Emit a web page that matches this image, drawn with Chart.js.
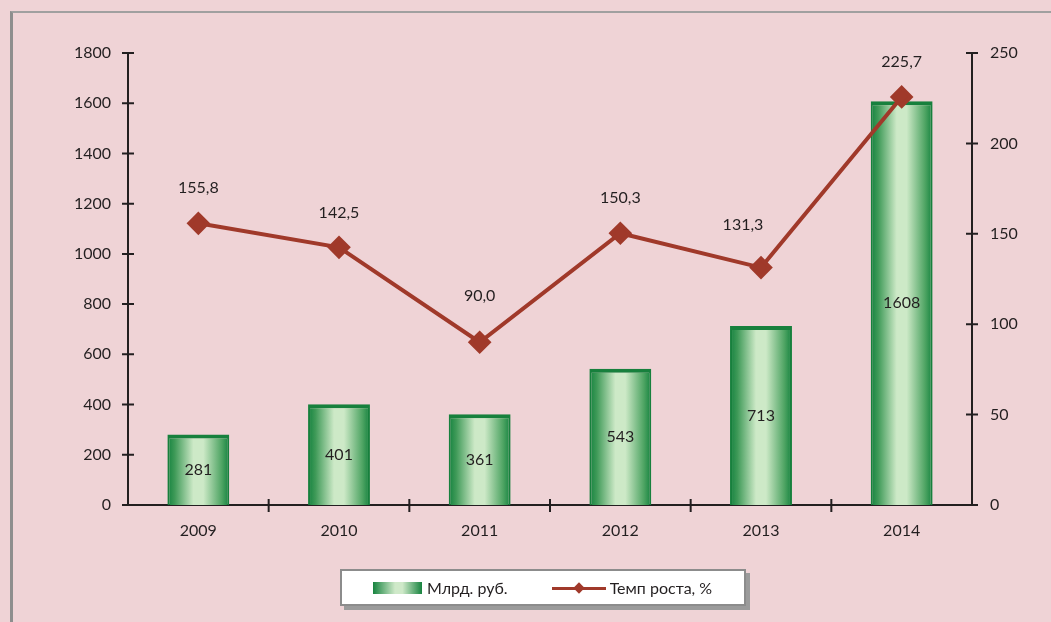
<!DOCTYPE html>
<html>
<head>
<meta charset="utf-8">
<script src="https://cdn.jsdelivr.net/npm/chart.js@4"></script>
<style>
  html, body { margin: 0; padding: 0; background: #efd3d6; }
  #wrap { position: relative; width: 1051px; height: 622px; overflow: hidden; font-family: Lato, sans-serif; }
  #frame { position: absolute; left: 10px; top: 11px; width: 1100px; height: 700px;
           border-left: 3px solid #8e8e8e; border-top: 2px solid #a0a0a0; }
  canvas { position: absolute; left: 0; top: 0; }
  #legend { position: absolute; left: 340px; top: 569px; width: 402px; height: 33px;
            background: #fff; border: 2px solid #8c8c8c; box-shadow: 4px 4px 0 #9b9b9b;
            display: flex; align-items: center; font-size: 16px; color: #231f20; }
  .sw-bar { width: 49px; height: 12px; margin-left: 31px; margin-right: 5px;
            background: linear-gradient(to right, #17833f, #cfe9c9 45%, #cfe9c9 60%, #17833f); }
  .sw-line { position: relative; width: 54px; height: 12px; margin-left: 44px; margin-right: 4px; }
  .sw-line:before { content: ""; position: absolute; left: 0; right: 0; top: 5px; height: 3px; background: #a0392a; }
  .sw-line:after { content: ""; position: absolute; left: 23px; top: 2px; width: 8px; height: 8px;
                   background: #a0392a; transform: rotate(45deg); }
</style>
</head>
<body>
<div id="wrap">
  <div id="frame"></div>
  <canvas id="chart" width="1051" height="622"></canvas>
  <div id="legend">
    <span class="sw-bar"></span><span>Млрд. руб.</span>
    <span class="sw-line"></span><span>Темп роста, %</span>
  </div>
</div>
<script>
let years = ["2009", "2010", "2011", "2012", "2013", "2014"];
let mlrd = [281, 401, 361, 543, 713, 1608];
let temp = [155.8, 142.5, 90.0, 150.3, 131.3, 225.7];

let ink = "#231f20";
let red = "#a0392a";
let tickFont = { family: "Lato", size: 16 };

function barGradient(c) {
    let chart = c.chart;
    let x = chart.scales.x;
    if (!x || !chart.chartArea) return "#8cc795";
    let cx = x.getPixelForValue(c.dataIndex);
    let w = (chart.chartArea.right - chart.chartArea.left) / years.length * 0.44;
    let g = chart.ctx.createLinearGradient(cx - w / 2, 0, cx + w / 2, 0);
    g.addColorStop(0, "#14823f");
    g.addColorStop(0.12, "#3f9a58");
    g.addColorStop(0.42, "#cde9c7");
    g.addColorStop(0.58, "#cde9c7");
    g.addColorStop(0.88, "#4ea463");
    g.addColorStop(1, "#14823f");
    return g;
}

// crossing tick marks like the original
let crossTicks = {
    id: "crossTicks",
    afterDraw(chart) {
        let ctx = chart.ctx;
        let a = chart.chartArea;
        ctx.save();
        ctx.strokeStyle = ink;
        ctx.lineWidth = 2;
        ctx.beginPath();
        chart.scales.y.ticks.forEach((t, i) => {
            let p = chart.scales.y.getPixelForTick(i);
            ctx.moveTo(a.left - 6, p); ctx.lineTo(a.left + 6, p);
        });
        chart.scales.y1.ticks.forEach((t, i) => {
            let p = chart.scales.y1.getPixelForTick(i);
            ctx.moveTo(a.right - 6, p); ctx.lineTo(a.right + 6, p);
        });
        let step = (a.right - a.left) / years.length;
        for (let k = 1; k < years.length; k++) {
            let p = a.left + k * step;
            ctx.moveTo(p, a.bottom - 6); ctx.lineTo(p, a.bottom + 7);
        }
        ctx.stroke();
        ctx.restore();
    }
};

// value labels
let valueLabels = {
    id: "valueLabels",
    afterDatasetsDraw(chart) {
        let ctx = chart.ctx;
        ctx.save();
        ctx.font = "16px Lato";
        ctx.fillStyle = ink;
        ctx.textAlign = "center";
        ctx.textBaseline = "middle";
        chart.getDatasetMeta(1).data.forEach((el, i) => {
            ctx.fillText(String(mlrd[i]), el.x, (el.y + el.base) / 2);
        });
        chart.getDatasetMeta(0).data.forEach((el, i) => {
            let txt = temp[i].toFixed(1).replace(".", ",");
            let dx = 0, dy = -35;
            if (i === 2) dy = -46;
            if (i === 4) { dx = -18; dy = -43; }
            ctx.fillText(txt, el.x + dx, el.y + dy);
        });
        ctx.restore();
    }
};

new Chart(document.getElementById("chart").getContext("2d"), {
    data: {
        labels: years,
        datasets: [{
            type: "line",
            label: "Темп роста, %",
            data: temp,
            yAxisID: "y1",
            borderColor: red,
            backgroundColor: red,
            borderWidth: 4,
            pointStyle: "rectRot",
            pointRadius: 9,
            pointHoverRadius: 9,
            tension: 0,
            order: 0
        }, {
            type: "bar",
            label: "Млрд. руб.",
            data: mlrd,
            yAxisID: "y",
            backgroundColor: barGradient,
            borderColor: "#17803d",
            borderWidth: { top: 4, left: 2, right: 2 },
            barPercentage: 0.44,
            categoryPercentage: 1,
            order: 1
        }]
    },
    options: {
        responsive: false,
        animation: false,
        layout: { padding: { top: 53, left: 0, right: 0, bottom: 0 } },
        plugins: { legend: { display: false }, tooltip: { enabled: false } },
        scales: {
            x: {
                grid: { display: false, drawTicks: false },
                border: { color: ink, width: 2 },
                ticks: { color: ink, font: tickFont, padding: 16 },
                afterFit(s) { s.height = 117; }
            },
            y: {
                position: "left",
                min: 0, max: 1800,
                ticks: { stepSize: 200, color: ink, font: tickFont, padding: 17, callback: v => String(v) },
                grid: { display: false, drawTicks: false },
                border: { color: ink, width: 2 },
                afterFit(s) { s.width = 128; }
            },
            y1: {
                position: "right",
                min: 0, max: 250,
                ticks: { stepSize: 50, color: ink, font: tickFont, padding: 18, callback: v => String(v) },
                grid: { display: false, drawTicks: false },
                border: { color: ink, width: 2 },
                afterFit(s) { s.width = 79; }
            }
        }
    },
    plugins: [crossTicks, valueLabels]
});
</script>
</body>
</html>
